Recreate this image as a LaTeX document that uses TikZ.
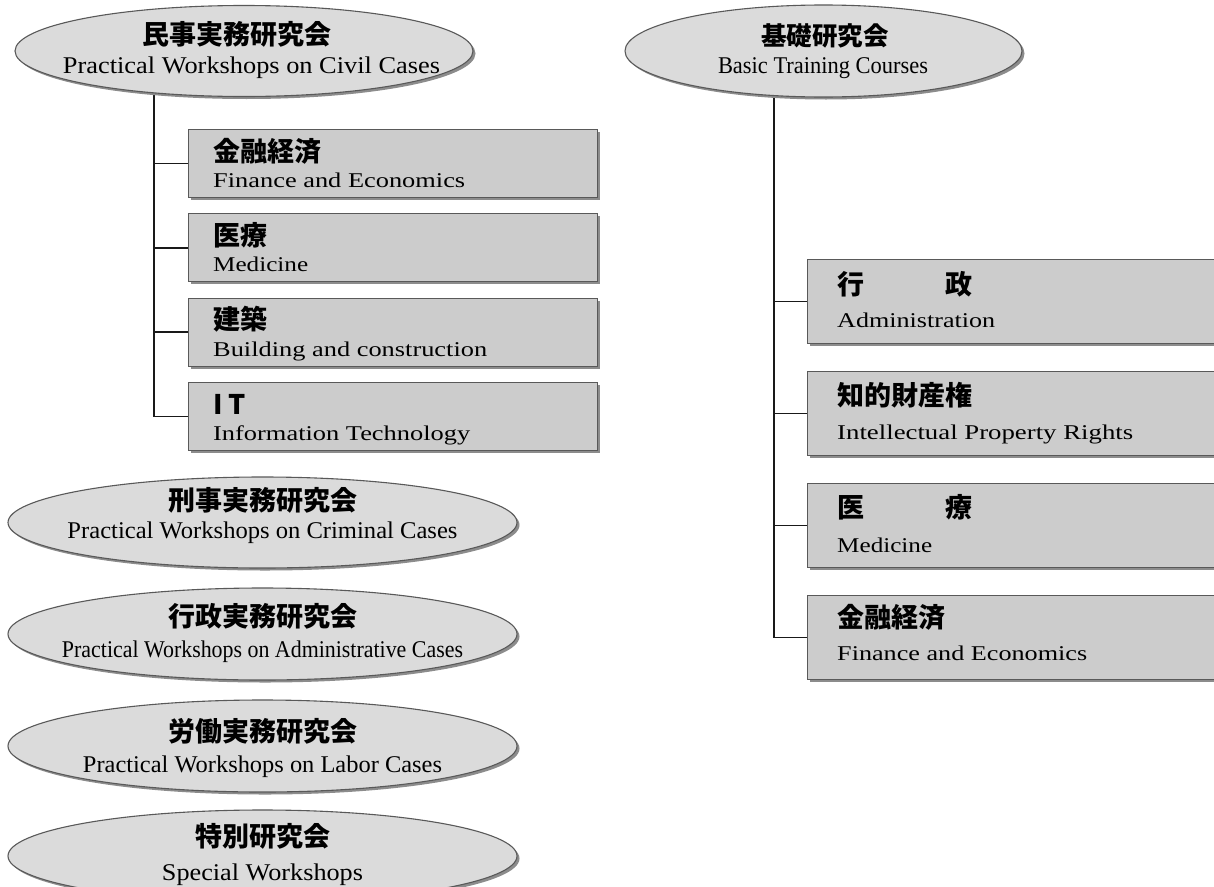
\documentclass[tikz,border=0pt]{standalone}
\usepackage{fontspec}
\setmainfont{Liberation Serif}
\newfontfamily\jp{Noto Sans CJK JP}
\usepackage{graphicx}
\usetikzlibrary{shapes.geometric,shadows,backgrounds}
\newcommand\ent[2]{\resizebox{#1pt}{\height}{#2}}
\tikzset{
  shade/.style={drop shadow={shadow xshift=2.5pt, shadow yshift=-2.5pt, fill=black!45, opacity=1}},
  ell/.style={ellipse, draw=black!65, line width=1.1pt, fill=gray!28, inner sep=0, shade},
  boxr/.style={rectangle, draw=black!65, line width=1.1pt, fill=gray!40, anchor=north west, inner sep=0, shade},
  jpc/.style={inner sep=0, anchor=base, font=\jp\bfseries\fontsize{27}{30}\selectfont},
  jpl/.style={inner sep=0, anchor=base west, font=\jp\bfseries\fontsize{27}{30}\selectfont},
  enc/.style={inner sep=0, anchor=base, font=\fontsize{24}{28}\selectfont},
  enl/.style={inner sep=0, anchor=base west, font=\fontsize{21}{25}\selectfont},
  link/.style={line width=1.7pt, black!90}
}
\begin{document}
\begin{tikzpicture}[x=1pt,y=-1pt]
\useasboundingbox (0,0) rectangle (1214,886);
\clip (0,0) rectangle (1214,886);

% ellipses
\node[ell, minimum width=458pt, minimum height=91pt] (e1) at (244,51) {};
\node[jpc] (e1j) at (237,44) {民事実務研究会};
\node[enc] (e1e) at (251.5,73) {\ent{377}{Practical Workshops on Civil Cases}};

\node[ell, minimum width=397pt, minimum height=92pt] (e2) at (823.5,51) {};
\node[jpc, font=\jp\bfseries\fontsize{25.5}{30}\selectfont] (e2j) at (825,45) {基礎研究会};
\node[enc] (e2e) at (823,73) {\ent{210}{Basic Training Courses}};

\node[ell, minimum width=509pt, minimum height=91pt] (e3) at (262.5,522.5) {};
\node[jpc] (e3j) at (262.5,510) {刑事実務研究会};
\node[enc] (e3e) at (262.5,538) {\ent{390}{Practical Workshops on Criminal Cases}};

\node[ell, minimum width=509pt, minimum height=92pt] (e4) at (262.5,634) {};
\node[jpc] (e4j) at (262.5,626) {行政実務研究会};
\node[enc] (e4e) at (262.5,657) {\ent{401}{Practical Workshops on Administrative Cases}};

\node[ell, minimum width=509pt, minimum height=92pt] (e5) at (262.5,746) {};
\node[jpc] (e5j) at (262.5,741) {労働実務研究会};
\node[enc] (e5e) at (262.5,772) {\ent{359}{Practical Workshops on Labor Cases}};

\node[ell, minimum width=509pt, minimum height=92pt] (e6) at (262.5,856) {};
\node[jpc] (e6j) at (262.5,846) {特別研究会};
\node[enc] (e6e) at (262.5,880) {\ent{201}{Special Workshops}};

% left boxes
\node[boxr, minimum width=409pt, minimum height=68pt] (l1) at (188,129) {};
\node[jpl] (l1j) at (213,161) {金融経済};
\node[enl] (l1e) at (213,187.5) {\ent{252}{Finance and Economics}};

\node[boxr, minimum width=409pt, minimum height=68pt] (l2) at (188,213.3) {};
\node[jpl] (l2j) at (213,245.3) {医療};
\node[enl] (l2e) at (213,271.8) {\ent{95}{Medicine}};

\node[boxr, minimum width=409pt, minimum height=68pt] (l3) at (188,297.6) {};
\node[jpl] (l3j) at (213,329.6) {建築};
\node[enl] (l3e) at (213,356.5) {\ent{274}{Building and construction}};

\node[boxr, minimum width=409pt, minimum height=68pt] (l4) at (188,382) {};
\node[jpl] (l4j) at (213,414) {I T};
\node[enl] (l4e) at (213,440.5) {\ent{257}{Information Technology}};

% right boxes
\node[boxr, minimum width=440pt, minimum height=84pt] (r1) at (807,259) {};
\node[jpl] (r1j) at (837,294) {行　　　政};
\node[enl] (r1e) at (837,327.5) {\ent{158}{Administration}};

\node[boxr, minimum width=440pt, minimum height=84pt] (r2) at (807,371) {};
\node[jpl] (r2j) at (837,405) {知的財産権};
\node[enl] (r2e) at (837,439.5) {\ent{296}{Intellectual Property Rights}};

\node[boxr, minimum width=440pt, minimum height=84pt] (r3) at (807,483) {};
\node[jpl] (r3j) at (837,517.5) {医　　　療};
\node[enl] (r3e) at (837,552.5) {\ent{95}{Medicine}};

\node[boxr, minimum width=440pt, minimum height=84pt] (r4) at (807,595) {};
\node[jpl] (r4j) at (837,627) {金融経済};
\node[enl] (r4e) at (837,660.5) {\ent{250}{Finance and Economics}};

% connectors (behind the shapes)
\begin{scope}[on background layer]
\fill[white] (0,0) rectangle (1214,886);
\coordinate (lt) at (154,90);
\coordinate (rt) at (774,90);
\draw[link] (lt) |- (l4.west);
\draw[link] (lt |- l1.west) -- (l1.west);
\draw[link] (lt |- l2.west) -- (l2.west);
\draw[link] (lt |- l3.west) -- (l3.west);
\draw[link] (rt) |- (r4.west);
\draw[link] (rt |- r1.west) -- (r1.west);
\draw[link] (rt |- r2.west) -- (r2.west);
\draw[link] (rt |- r3.west) -- (r3.west);
\end{scope}
\end{tikzpicture}
\end{document}
